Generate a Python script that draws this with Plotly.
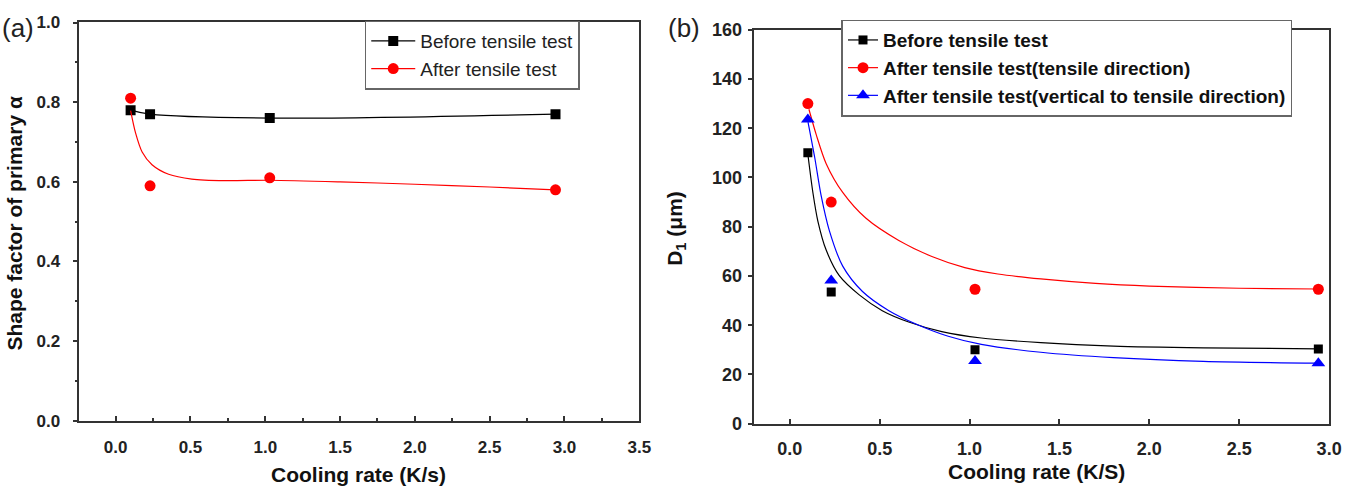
import plotly.graph_objects as go

# ---------------- data ----------------
cooling_rate = [0.10, 0.23, 1.03, 2.94]

# panel (a): shape factor of primary alpha
a_before = [0.78, 0.77, 0.76, 0.77]
a_after = [0.81, 0.59, 0.61, 0.58]
# fitted curve
a_after_fit_x = [0.10, 0.133, 0.177, 0.243, 0.354, 0.509, 0.73, 1.03, 1.5, 2.0, 2.5, 2.94]
a_after_fit_y = [0.779, 0.723, 0.675, 0.643, 0.619, 0.607, 0.603, 0.604, 0.600, 0.594, 0.587, 0.580]

# panel (b): D1 (um)
b_before = [110.0, 53.5, 30.0, 30.3]
b_after_t = [130.0, 90.0, 54.6, 54.6]
b_after_v = [123.5, 58.2, 25.5, 24.5]
# fitted curves
b_before_fit_x = [0.101, 0.128, 0.156, 0.202, 0.275, 0.386, 0.514, 0.661, 0.845, 1.065, 1.396, 1.8, 2.3, 2.94]
b_before_fit_y = [108.9, 93.9, 82.2, 70.5, 60.1, 52.3, 45.9, 41.3, 37.4, 34.8, 32.9, 31.5, 30.8, 30.4]
b_after_t_fit_x = [0.106, 0.147, 0.202, 0.294, 0.422, 0.606, 0.79, 0.973, 1.157, 1.396, 1.7, 2.0, 2.5, 2.94]
b_after_t_fit_y = [127.7, 117.3, 105.6, 93.9, 83.5, 74.4, 67.9, 63.4, 60.8, 58.8, 57.0, 55.9, 55.0, 54.7]
b_after_v_fit_x = [0.101, 0.138, 0.174, 0.22, 0.294, 0.404, 0.551, 0.698, 0.881, 1.065, 1.396, 1.8, 2.3, 2.94]
b_after_v_fit_y = [122.5, 108.2, 92.6, 78.3, 64.0, 53.7, 45.9, 40.6, 35.5, 32.2, 29.0, 26.8, 25.3, 24.6]

legend_a = ["Before tensile test", "After tensile test"]
legend_b = ["Before tensile test",
            "After tensile test(tensile direction)",
            "After tensile test(vertical to tensile direction)"]

# ---------------- styles ----------------
W, H = 1358, 498
FONT = "Liberation Sans, Arial, sans-serif"
AX = "#333333"
BLACK, RED, BLUE = "#000000", "#FF0000", "#0000FF"

fig = go.Figure()

# ----- panel (a) -----
fig.add_trace(go.Scatter(x=cooling_rate, y=a_before, mode="lines+markers",
                         line=dict(color=BLACK, width=1.2, shape="spline"),
                         marker=dict(symbol="square", size=10, color=BLACK),
                         name=legend_a[0], legend="legend", xaxis="x", yaxis="y"))
fig.add_trace(go.Scatter(x=a_after_fit_x, y=a_after_fit_y, mode="lines",
                         line=dict(color=RED, width=1.2, shape="spline", smoothing=0.8),
                         showlegend=False, hoverinfo="skip", xaxis="x", yaxis="y"))
fig.add_trace(go.Scatter(x=cooling_rate, y=a_after, mode="markers",
                         marker=dict(symbol="circle", size=11, color=RED),
                         showlegend=False, xaxis="x", yaxis="y"))
fig.add_trace(go.Scatter(x=[None], y=[None], mode="lines+markers",
                         line=dict(color=RED, width=1.2),
                         marker=dict(symbol="circle", size=11, color=RED),
                         name=legend_a[1], legend="legend", xaxis="x", yaxis="y"))

# ----- panel (b) -----
fits_b = [(b_before_fit_x, b_before_fit_y, BLACK),
          (b_after_t_fit_x, b_after_t_fit_y, RED),
          (b_after_v_fit_x, b_after_v_fit_y, BLUE)]
for fx, fy, c in fits_b:
    fig.add_trace(go.Scatter(x=fx, y=fy, mode="lines",
                             line=dict(color=c, width=1.2, shape="spline", smoothing=0.8),
                             showlegend=False, hoverinfo="skip", xaxis="x2", yaxis="y2"))

pts_b = [(b_before, BLACK, "square", 9),
         (b_after_t, RED, "circle", 11),
         (b_after_v, BLUE, "triangle-up", 12)]
for (vals, c, sym, sz), name in zip(pts_b, legend_b):
    fig.add_trace(go.Scatter(x=cooling_rate, y=vals, mode="markers",
                             marker=dict(symbol=sym, size=sz, color=c),
                             showlegend=False, xaxis="x2", yaxis="y2"))
    fig.add_trace(go.Scatter(x=[None], y=[None], mode="lines+markers",
                             line=dict(color=c, width=1.2),
                             marker=dict(symbol=sym, size=sz, color=c),
                             name=name, legend="legend2", xaxis="x2", yaxis="y2"))

# ---------------- axes ----------------
def px_x(p):
    return p / W

def px_y(p):
    return 1 - p / H

common = dict(showline=True, linecolor=AX, linewidth=1.5, mirror=True,
              showgrid=False, zeroline=False, tickcolor=AX, tickwidth=1.5,
              ticklen=5)

tickfont_a = dict(family=FONT, size=17, color="#222222", weight="bold")
tickfont_b = dict(family=FONT, size=18, color="#222222", weight="bold")

fig.update_layout(
    width=W, height=H, margin=dict(l=0, r=0, t=0, b=0),
    paper_bgcolor="white", plot_bgcolor="white",
    xaxis=dict(domain=[px_x(80), px_x(645)], range=[-0.243, 3.5001], anchor="y",
               tick0=0, dtick=0.5, tickformat=".1f", ticks="inside",
               minor=dict(dtick=0.25, ticks="inside", ticklen=3, tickcolor=AX, tickwidth=1.5),
               tickfont=tickfont_a, ticklabelstandoff=10, **common),
    yaxis=dict(domain=[px_y(428), px_y(13)], range=[0, 1.0001], anchor="x",
               tick0=0, dtick=0.2, tickformat=".1f", ticks="outside",
               minor=dict(dtick=0.1, ticks="outside", ticklen=3, tickcolor=AX, tickwidth=1.5),
               tickfont=tickfont_a, ticklabelstandoff=9, **common),
    xaxis2=dict(domain=[px_x(761), px_x(1341)], range=[-0.198, 3.0001], anchor="y2",
                tick0=0, dtick=0.5, tickformat=".1f", ticks="inside",
                tickfont=tickfont_b, ticklabelstandoff=8, **common),
    yaxis2=dict(domain=[px_y(431), px_y(20.5)], range=[0, 160.01], anchor="x2",
                tick0=0, dtick=20, ticks="outside",
                tickfont=tickfont_b, ticklabelstandoff=2, **common),
    legend=dict(x=px_x(368), y=px_y(11), xanchor="left", yanchor="top",
                bgcolor="white", bordercolor="#666666", borderwidth=1.5,
                font=dict(family=FONT, size=19, color="#222222"),
                itemwidth=44, tracegroupgap=0),
    legend2=dict(x=px_x(849), y=px_y(10), xanchor="left", yanchor="top",
                 bgcolor="white", bordercolor="#666666", borderwidth=1.5,
                 font=dict(family=FONT, size=19, color="#111111", weight="bold"),
                 itemwidth=30, tracegroupgap=0),
)

title_font = dict(family=FONT, size=21, color="#111111", weight="bold")
annos = [
    dict(text="(a)", x=px_x(0), y=px_y(19), xanchor="left", yanchor="middle",
         font=dict(family=FONT, size=26, color="#222222")),
    dict(text="(b)", x=px_x(672), y=px_y(19), xanchor="left", yanchor="middle",
         font=dict(family=FONT, size=26, color="#222222")),
    dict(text="Cooling rate (K/s)", x=px_x(362), y=px_y(484), xanchor="center",
         yanchor="middle", font=title_font),
    dict(text="Shape factor of primary α", x=px_x(1), y=px_y(222), xanchor="left",
         yanchor="middle", textangle=-90, font=title_font),
    dict(text="Cooling rate (K/S)", x=px_x(1045.6), y=px_y(481), xanchor="center",
         yanchor="middle", font=title_font),
    dict(text="D<sub>1</sub> (μm)", x=px_x(682), y=px_y(227), xanchor="center",
         yanchor="middle", textangle=-90, font=title_font),
]
for a in annos:
    fig.add_annotation(xref="paper", yref="paper", showarrow=False, **a)

fig.write_html("out.html")
